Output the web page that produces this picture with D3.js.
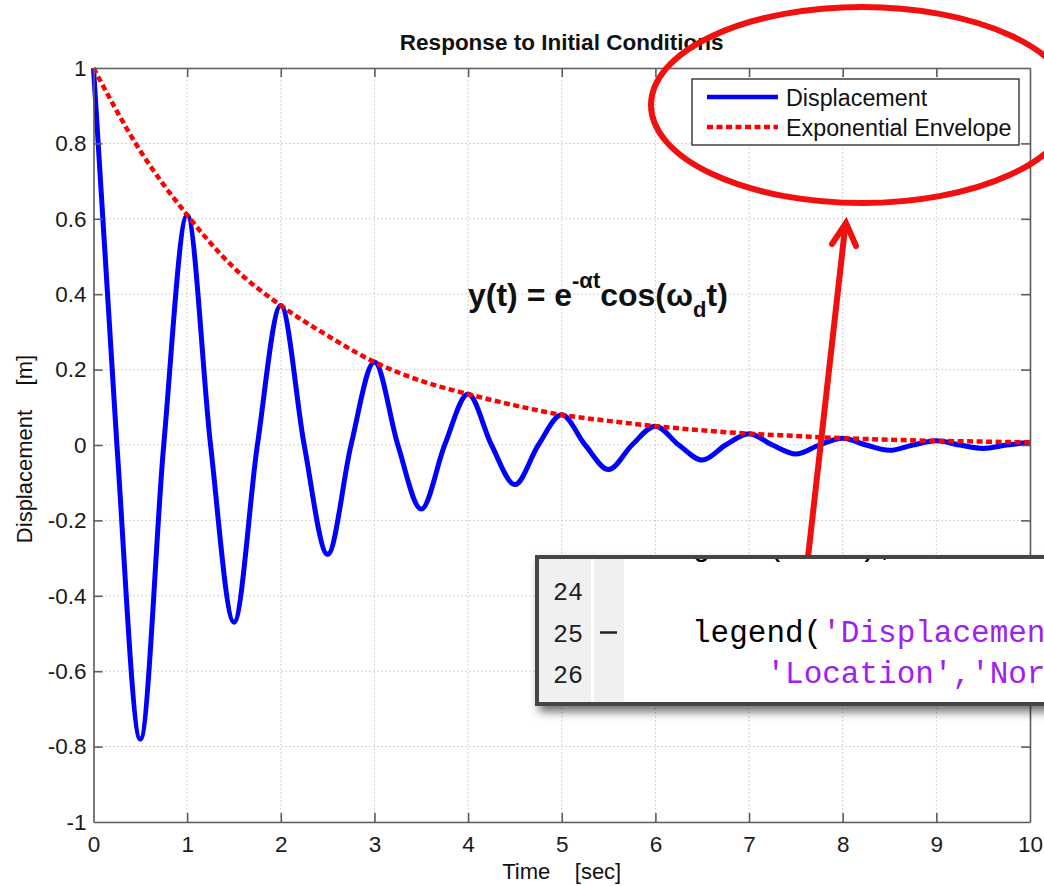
<!DOCTYPE html>
<html>
<head>
<meta charset="utf-8">
<script src="https://cdn.jsdelivr.net/npm/d3@7"></script>
<style>
  body { margin: 0; background: #fff; }
  text { font-family: "Liberation Sans", Arial, sans-serif; }
  .mono { font-family: "Liberation Mono", "Courier New", monospace; }
</style>
</head>
<body>
<div id="chart"></div>
<script>
// values: extremes and zero crossings of the displacement
var timeDisp = [0, 0.25, 0.5, 0.75, 1, 1.25, 1.5, 1.75, 2, 2.25, 2.5, 2.75, 3, 3.25, 3.5, 3.75, 4, 4.25, 4.5, 4.75,
  5, 5.25, 5.5, 5.75, 6, 6.25, 6.5, 6.75, 7, 7.25, 7.5, 7.75, 8, 8.25, 8.5, 8.75, 9, 9.25, 9.5, 9.75, 10];
var displacement = [1, 0, -0.78, 0, 0.61, 0, -0.47, 0, 0.37, 0, -0.29, 0, 0.22, 0, -0.17, 0, 0.135, 0, -0.105, 0,
  0.08, 0, -0.065, 0, 0.05, 0, -0.04, 0, 0.03, 0, -0.024, 0, 0.018, 0, -0.014, 0, 0.011, 0, -0.009, 0, 0.007];

var timeEnv = [0, 0.5, 1, 1.5, 2, 2.5, 3, 3.5, 4, 4.5, 5, 5.5, 6, 6.5, 7, 7.5, 8, 8.5, 9, 9.5, 10];
var envelope = [1, 0.78, 0.61, 0.47, 0.37, 0.29, 0.22, 0.17, 0.135, 0.105, 0.08, 0.064, 0.05, 0.039, 0.03, 0.024,
  0.018, 0.014, 0.011, 0.009, 0.007];

var xTicks = [0, 1, 2, 3, 4, 5, 6, 7, 8, 9, 10];
var yTicks = [-1, -0.8, -0.6, -0.4, -0.2, 0, 0.2, 0.4, 0.6, 0.8, 1];
var legendLabels = ["Displacement", "Exponential Envelope"];

var codeNumbers = ["23", "24", "25", "26"];
var codeLines = [
  [["grid('on');", "#000"]],
  [],
  [["legend(", "#000"], ["'Displacement','Exponential Envelope',...", "#a020f0"]],
  [["    ", "#000"], ["'Location','NorthEast'", "#a020f0"], [");", "#000"]]
];

(function () {
  var width = 1044,
    height = 886;

  var plot = {left: 93.5, right: 1030, top: 68, bottom: 822};

  var svg = d3.select("#chart")
    .append("svg")
    .attr("width", width)
    .attr("height", height)
    .style("display", "block");

  var defs = svg.append("defs");
  var shadow = defs.append("filter").attr("id", "shadow")
    .attr("x", "-10%").attr("y", "-20%").attr("width", "130%").attr("height", "150%");
  shadow.append("feDropShadow")
    .attr("dx", 4).attr("dy", 6).attr("stdDeviation", 5)
    .attr("flood-color", "#000").attr("flood-opacity", 0.55);

  defs.append("clipPath").attr("id", "codeclip")
    .append("rect").attr("x", 539).attr("y", 559).attr("width", 520).attr("height", 143);

  var x = d3.scaleLinear().domain([0, 10]).range([plot.left, plot.right]);
  var y = d3.scaleLinear().domain([-1, 1]).range([plot.bottom, plot.top]);

  // dotted grid
  var grid = svg.append("g").attr("class", "grid");
  grid.selectAll(".vgrid")
    .data(xTicks)
    .enter().append("line")
    .attr("x1", function (d) { return x(d); })
    .attr("x2", function (d) { return x(d); })
    .attr("y1", plot.top)
    .attr("y2", plot.bottom);
  grid.selectAll(".hgrid")
    .data(yTicks)
    .enter().append("line")
    .attr("y1", function (d) { return y(d); })
    .attr("y2", function (d) { return y(d); })
    .attr("x1", plot.left)
    .attr("x2", plot.right);
  grid.selectAll("line")
    .attr("stroke", "#c4c4c4")
    .attr("stroke-width", 1)
    .attr("stroke-dasharray", "1.5,2.5");

  // curves
  var dispData = timeDisp.map(function (t, i) { return [t, displacement[i]]; });
  var envData = timeEnv.map(function (t, i) { return [t, envelope[i]]; });

  var line = d3.line()
    .x(function (d) { return x(d[0]); })
    .y(function (d) { return y(d[1]); })
    .curve(d3.curveMonotoneX);

  svg.append("path")
    .datum(dispData)
    .attr("d", line)
    .attr("fill", "none")
    .attr("stroke", "#0000ff")
    .attr("stroke-width", 5)
    .attr("stroke-linejoin", "round");

  svg.append("path")
    .datum(envData)
    .attr("d", line)
    .attr("fill", "none")
    .attr("stroke", "#ff0000")
    .attr("stroke-width", 4.5)
    .attr("stroke-dasharray", "6,3.5");

  // axes, ticks inside like matlab
  var axisColor = "#5e5e5e";
  var bottomAxis = svg.append("g")
    .attr("transform", "translate(0," + plot.bottom + ")")
    .call(d3.axisBottom(x).tickValues(xTicks).tickSizeInner(-9).tickSizeOuter(0).tickPadding(16)
      .tickFormat(function (d) { return String(d); }));
  var leftAxis = svg.append("g")
    .attr("transform", "translate(" + plot.left + ",0)")
    .call(d3.axisLeft(y).tickValues(yTicks).tickSizeInner(-9).tickSizeOuter(0).tickPadding(7)
      .tickFormat(function (d) { return String(d); }));
  var topAxis = svg.append("g")
    .attr("transform", "translate(0," + plot.top + ")")
    .call(d3.axisTop(x).tickValues(xTicks).tickSizeInner(-9).tickSizeOuter(0).tickFormat(""));
  var rightAxis = svg.append("g")
    .attr("transform", "translate(" + plot.right + ",0)")
    .call(d3.axisRight(y).tickValues(yTicks).tickSizeInner(-9).tickSizeOuter(0).tickFormat(""));

  [bottomAxis, leftAxis, topAxis, rightAxis].forEach(function (a) {
    a.select(".domain").attr("stroke", axisColor).attr("stroke-width", 1.6);
    a.selectAll(".tick line").attr("stroke", axisColor).attr("stroke-width", 1.6);
    a.selectAll(".tick text")
      .attr("fill", "#1a1a1a")
      .style("font-size", "22.5px")
      .style("font-family", '"Liberation Sans", Arial, sans-serif');
  });
  // drop end ticks that sit on the box corners
  [bottomAxis, topAxis].forEach(function (a) {
    a.selectAll(".tick line").filter(function (d) { return d === 0 || d === 10; }).remove();
  });
  [leftAxis, rightAxis].forEach(function (a) {
    a.selectAll(".tick line").filter(function (d) { return d === -1 || d === 1; }).remove();
  });
  bottomAxis.selectAll(".tick text").attr("dy", "0.62em");

  // titles
  svg.append("text")
    .attr("x", (plot.left + plot.right) / 2)
    .attr("y", 50)
    .attr("text-anchor", "middle")
    .attr("font-weight", "bold")
    .attr("fill", "#111")
    .style("font-size", "22.5px")
    .text("Response to Initial Conditions");

  svg.append("text")
    .attr("x", (plot.left + plot.right) / 2)
    .attr("y", 879)
    .attr("text-anchor", "middle")
    .attr("fill", "#111")
    .style("font-size", "22px")
    .style("white-space", "pre")
    .text("Time    [sec]");

  svg.append("text")
    .attr("transform", "translate(32," + ((plot.top + plot.bottom) / 2 + 4) + ") rotate(-90)")
    .attr("text-anchor", "middle")
    .attr("fill", "#111")
    .style("font-size", "22px")
    .style("white-space", "pre")
    .text("Displacement    [m]");

  // equation
  var eq = svg.append("text")
    .attr("x", 468)
    .attr("y", 306)
    .attr("font-weight", "bold")
    .attr("fill", "#111")
    .style("font-size", "32px");
  eq.append("tspan").text("y(t) = e");
  eq.append("tspan").attr("dy", -18).style("font-size", "22px").text("-\u03b1t");
  eq.append("tspan").attr("dy", 18).text("cos(\u03c9");
  eq.append("tspan").attr("dy", 11).style("font-size", "22px").text("d");
  eq.append("tspan").attr("dy", -11).text("t)");

  // legend
  var legend = svg.append("g").attr("class", "legend");
  legend.append("rect")
    .attr("x", 692).attr("y", 79).attr("width", 327).attr("height", 66)
    .attr("fill", "#fff").attr("stroke", "#222").attr("stroke-width", 1.3);
  var legendStyles = [
    {color: "#0000ff", dash: null},
    {color: "#ff0000", dash: "6,3.5"}
  ];
  legend.selectAll(".legend_item")
    .data(legendLabels)
    .enter().append("g")
    .attr("class", "legend_item")
    .attr("transform", function (d, i) { return "translate(0," + (97 + i * 30) + ")"; })
    .each(function (d, i) {
      var g = d3.select(this);
      g.append("line")
        .attr("x1", 707).attr("x2", 778).attr("y1", 0).attr("y2", 0)
        .attr("stroke", legendStyles[i].color)
        .attr("stroke-width", 4.5)
        .attr("stroke-dasharray", legendStyles[i].dash);
      g.append("text")
        .attr("x", 786).attr("y", 8.5)
        .attr("fill", "#111")
        .style("font-size", "23.3px")
        .text(d);
    });

  // red call-out
  svg.append("ellipse")
    .attr("cx", 862).attr("cy", 105).attr("rx", 211).attr("ry", 98)
    .attr("fill", "none").attr("stroke", "#f01010").attr("stroke-width", 6);

  svg.append("line")
    .attr("x1", 806).attr("y1", 575).attr("x2", 845).attr("y2", 228)
    .attr("stroke", "#f01010").attr("stroke-width", 6);
  svg.append("path")
    .attr("d", "M832,244 L846,223 L856,246")
    .attr("fill", "none").attr("stroke", "#f01010").attr("stroke-width", 6)
    .attr("stroke-linecap", "round").attr("stroke-linejoin", "miter");

  // editor snippet
  var code = svg.append("g").attr("class", "code");
  code.append("rect")
    .attr("x", 537).attr("y", 557).attr("width", 560).attr("height", 147)
    .attr("fill", "#fff").attr("stroke", "#454545").attr("stroke-width", 4)
    .attr("filter", "url(#shadow)");
  code.append("rect")
    .attr("x", 539).attr("y", 559).attr("width", 52).attr("height", 143).attr("fill", "#f0f0f0");
  code.append("rect")
    .attr("x", 594).attr("y", 559).attr("width", 30).attr("height", 143).attr("fill", "#f0f0f0");

  var inner = code.append("g").attr("clip-path", "url(#codeclip)");
  var lineGap = 41.5,
    firstBase = 600 - lineGap;

  inner.selectAll(".lineno")
    .data(codeNumbers)
    .enter().append("text")
    .attr("class", "mono")
    .attr("x", 583)
    .attr("y", function (d, i) { return firstBase + i * lineGap - (i === 0 ? 4 : 0); })
    .attr("text-anchor", "end")
    .attr("fill", "#222")
    .style("font-size", "25px")
    .text(function (d) { return d; });

  code.append("line")
    .attr("x1", 600).attr("x2", 617)
    .attr("y1", firstBase + 2 * lineGap - 9).attr("y2", firstBase + 2 * lineGap - 9)
    .attr("stroke", "#222").attr("stroke-width", 2.5);

  inner.selectAll(".codeline")
    .data(codeLines)
    .enter().append("text")
    .attr("class", "mono")
    .attr("x", 692)
    .attr("y", function (d, i) { return firstBase + i * lineGap - (i === 0 ? 4 : 0); })
    .style("font-size", "31px")
    .style("white-space", "pre")
    .each(function (d) {
      var t = d3.select(this);
      d.forEach(function (seg) {
        t.append("tspan").attr("fill", seg[1]).text(seg[0]);
      });
    });
})();
</script>
</body>
</html>
